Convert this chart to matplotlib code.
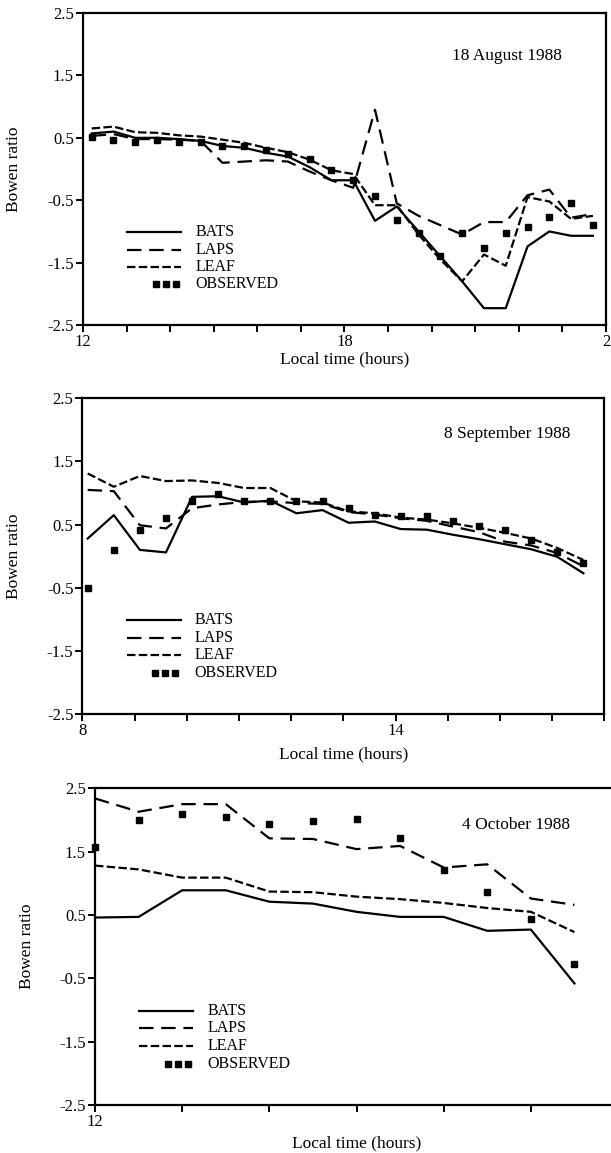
import matplotlib
matplotlib.use("Agg")
import matplotlib.pyplot as plt

plt.rcParams["font.family"] = ["Liberation Serif", "DejaVu Serif"]
plt.rcParams["axes.unicode_minus"] = False

# 18 August 1988 (local time runs past midnight; 24 is shown as "2")
t_aug = [12.2, 12.7, 13.2, 13.7, 14.2, 14.7, 15.2, 15.7, 16.2, 16.7, 17.2, 17.7,
         18.2, 18.7, 19.2, 19.7, 20.2, 20.7, 21.2, 21.7, 22.2, 22.7, 23.2, 23.7]
bats_aug = [0.57, 0.60, 0.50, 0.50, 0.48, 0.45, 0.37, 0.34, 0.26, 0.20, 0.03, -0.18,
            -0.18, -0.83, -0.60, -1.00, -1.40, -1.80, -2.23, -2.23, -1.24, -1.00, -1.07, -1.07]
laps_aug = [0.53, 0.56, 0.48, 0.48, 0.47, 0.45, 0.10, 0.12, 0.14, 0.12, -0.04, -0.18,
            -0.30, 0.95, -0.55, -0.75, -0.90, -1.05, -0.85, -0.85, -0.42, -0.33, -0.78, -0.72]
leaf_aug = [0.65, 0.68, 0.59, 0.58, 0.54, 0.52, 0.47, 0.42, 0.34, 0.27, 0.15, -0.02,
            -0.08, -0.58, -0.58, -1.05, -1.45, -1.80, -1.37, -1.55, -0.45, -0.52, -0.80, -0.75]
obs_aug = [0.51, 0.46, 0.44, 0.46, 0.44, 0.43, 0.37, 0.37, 0.30, 0.24, 0.16, -0.01,
           -0.17, -0.44, -0.81, -1.02, -1.40, -1.03, -1.27, -1.03, -0.93, -0.77, -0.55, -0.90]

# 8 September 1988
t_sep = [8.1, 8.6, 9.1, 9.6, 10.1, 10.6, 11.1, 11.6, 12.1, 12.6,
         13.1, 13.6, 14.1, 14.6, 15.1, 15.6, 16.1, 16.6, 17.1, 17.6]
bats_sep = [0.28, 0.65, 0.10, 0.06, 0.94, 0.95, 0.85, 0.88, 0.68, 0.73,
            0.53, 0.55, 0.43, 0.42, 0.34, 0.27, 0.19, 0.11, -0.01, -0.27]
laps_sep = [1.05, 1.03, 0.49, 0.44, 0.76, 0.82, 0.86, 0.87, 0.84, 0.83,
            0.70, 0.66, 0.60, 0.56, 0.47, 0.38, 0.23, 0.17, 0.05, -0.16]
leaf_sep = [1.31, 1.10, 1.27, 1.19, 1.20, 1.16, 1.08, 1.08, 0.87, 0.85,
            0.71, 0.68, 0.61, 0.58, 0.52, 0.45, 0.37, 0.28, 0.13, -0.06]
obs_sep = [-0.50, 0.10, 0.41, 0.61, 0.87, 0.98, 0.87, 0.87, 0.87, 0.87,
           0.76, 0.66, 0.63, 0.63, 0.55, 0.48, 0.42, 0.25, 0.07, -0.10]

# 4 October 1988
t_oct = [12.0, 12.5, 13.0, 13.5, 14.0, 14.5, 15.0, 15.5, 16.0, 16.5, 17.0, 17.5]
bats_oct = [0.46, 0.47, 0.89, 0.89, 0.71, 0.68, 0.55, 0.47, 0.47, 0.25, 0.27, -0.58]
laps_oct = [2.34, 2.13, 2.25, 2.25, 1.71, 1.70, 1.54, 1.59, 1.25, 1.30, 0.76, 0.66]
leaf_oct = [1.28, 1.22, 1.09, 1.09, 0.87, 0.86, 0.79, 0.75, 0.69, 0.61, 0.55, 0.23]
obs_oct = [1.58, 2.00, 2.10, 2.05, 1.93, 1.99, 2.01, 1.72, 1.21, 0.87, 0.44, -0.28]

y_ticks = [2.5, 1.5, 0.5, -0.5, -1.5, -2.5]
series_names = ["BATS", "LAPS", "LEAF", "OBSERVED"]

LW = 1.6
STYLES = {
    "BATS": dict(linestyle="-"),
    "LAPS": dict(dashes=(6.5, 3.5)),
    "LEAF": dict(dashes=(3.8, 1.5)),
}


def draw_panel(ax, t, bats, laps, leaf, obs, xlim, xticks, xlabels, title, title_xy):
    ax.plot(t, bats, color="black", lw=LW, **STYLES["BATS"])
    ax.plot(t, laps, color="black", lw=LW, **STYLES["LAPS"])
    ax.plot(t, leaf, color="black", lw=LW, **STYLES["LEAF"])
    ax.plot(t, obs, linestyle="none", marker="s", ms=4.3, color="black", clip_on=False)

    ax.set_xlim(*xlim)
    ax.set_ylim(-2.5, 2.5)
    ax.set_yticks(y_ticks)
    ax.set_yticklabels([f"{v:.1f}" for v in y_ticks])
    ax.set_xticks(xticks)
    ax.set_xticklabels(xlabels)

    for side in ax.spines.values():
        side.set_linewidth(1.6)
    ax.tick_params(direction="out", length=5, width=1.4, labelsize=12, pad=1.5)

    ax.set_ylabel("Bowen ratio", fontsize=12.5)
    ax.yaxis.set_label_coords(-0.116, 0.5)
    ax.set_xlabel("Local time (hours)", fontsize=12.5, labelpad=1)

    ax.text(title_xy[0], title_xy[1], title, transform=ax.transAxes,
            ha="center", va="center", fontsize=12.5)

    # hand-placed key in the lower left corner
    rows = [0.298, 0.242, 0.186, 0.130]
    for name, y in zip(series_names, rows):
        if name == "OBSERVED":
            ax.plot([0.139, 0.158, 0.178], [y, y, y], linestyle="none", marker="s",
                    ms=4.3, color="black", transform=ax.transAxes)
        else:
            ax.plot([0.085, 0.188], [y, y], color="black", lw=LW,
                    transform=ax.transAxes, **STYLES[name])
        ax.text(0.215, y, name, transform=ax.transAxes, ha="left", va="center",
                fontsize=11.5)


fig = plt.figure(figsize=(6.11, 11.53), dpi=100)

ax1 = fig.add_axes([0.1358, 0.7181, 0.856, 0.2706])
hours_aug = list(range(12, 25))
draw_panel(ax1, t_aug, bats_aug, laps_aug, leaf_aug, obs_aug, (12, 24), hours_aug,
           ["2" if h == 24 else str(h) if h in (12, 18) else "" for h in hours_aug],
           "18 August 1988", (0.811, 0.862))

ax2 = fig.add_axes([0.135, 0.3807, 0.854, 0.2738])
hours_sep = list(range(8, 19))
draw_panel(ax2, t_sep, bats_sep, laps_sep, leaf_sep, obs_sep, (8, 18), hours_sep,
           [str(h) if h in (8, 14) else "" for h in hours_sep],
           "8 September 1988", (0.813, 0.887))
ax2.xaxis.labelpad = 5

ax3 = fig.add_axes([0.1555, 0.0416, 0.856, 0.2747])
hours_oct = list(range(12, 19))
draw_panel(ax3, t_oct, bats_oct, laps_oct, leaf_oct, obs_oct, (12, 18), hours_oct,
           [str(h) if h in (12, 18) else "" for h in hours_oct],
           "4 October 1988", (0.805, 0.884))
ax3.xaxis.labelpad = 3.5
ax3.yaxis.set_label_coords(-0.114, 0.5)

fig.savefig("out.png", dpi=100)
